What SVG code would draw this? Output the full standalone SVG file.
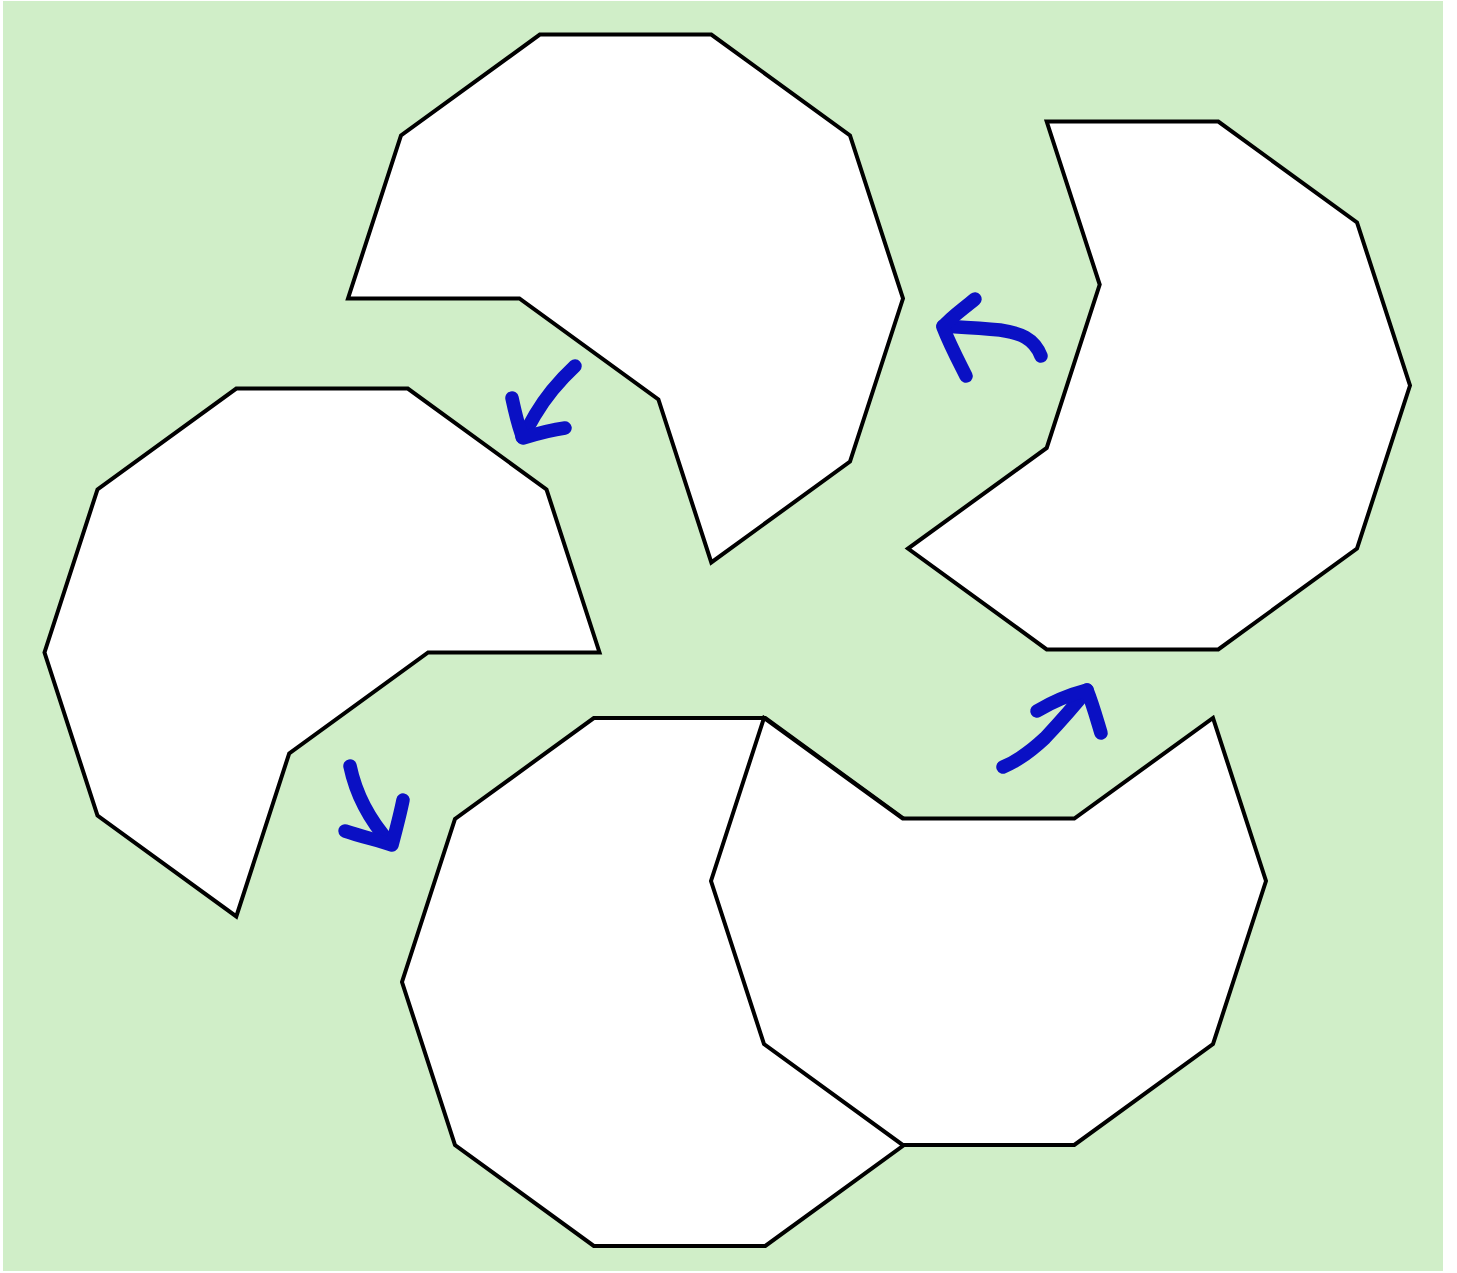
<svg xmlns="http://www.w3.org/2000/svg" width="1457" height="1273" viewBox="0 0 1457 1273">
<style>
.shape{fill:#ffffff;stroke:#000000;stroke-width:4;stroke-linejoin:miter}
.arrow{fill:none;stroke:#0a10c4;stroke-width:13.5;stroke-linecap:round;stroke-linejoin:round}
</style>
<rect x="0" y="0" width="1457" height="1273" fill="#ffffff"/>
<rect x="3" y="1" width="1440" height="1270" fill="#d0eec8"/>
<g id="shape-top">
<polygon class="shape" points="903,298.5 850,461.6 711.3,562.4 658.4,399.4 519.4,298.4 348,298.5 401,135.4 539.8,34.6 711.3,34.6 850,135.4"/>
</g>
<g id="shape-left">
<polygon class="shape" points="599.5,652.5 428.1,652.5 289.2,753.4 236.3,916.4 97.5,815.6 44.5,652.5 97.5,489.4 236.3,388.6 407.8,388.6 546.5,489.4"/>
</g>
<g id="shape-right">
<polygon class="shape" points="1410,385.5 1357,548.6 1218.3,649.4 1046.7,649.4 908,548.6 1046.7,447.9 1099.7,284.6 1046.7,121.6 1218.3,121.6 1357,222.4"/>
</g>
<g id="shape-bottom-left">
<polygon class="shape" points="957,982 904,1145.1 765.3,1245.9 593.8,1245.9 455,1145.1 402,982 455,818.9 593.8,718.1 765.3,718.1 904,818.9"/>
</g>
<g id="shape-bottom-right">
<polygon class="shape" points="1266,881 1213,1044.1 1074.3,1144.9 902.7,1144.9 764,1044.1 711,881 764,717.9 902.7,818.6 1074.3,818.6 1213,717.9"/>
</g>
<g id="connectors">
<path class="arrow" d="M1041,356 C1034,338 1020,333 1000,330 C980,328 960,327 943,326"/>
<path class="arrow" d="M975,299 C962,310 950,318 943,327 C950,345 958,360 966,376"/>
<path class="arrow" d="M575,366 C560,380 545,398 535,415 C530,424 526,431 522,437"/>
<path class="arrow" d="M512,398 C515,412 518,426 523,438 C536,434 550,430 565,428"/>
<path class="arrow" d="M350,766 C355,790 365,815 390,843"/>
<path class="arrow" d="M345,831 C360,836 376,840 392,845 C396,830 400,815 403,800"/>
<path class="arrow" d="M1003,767 C1015,762 1030,752 1045,738 C1060,722 1075,705 1087,690"/>
<path class="arrow" d="M1037,711 C1052,702 1068,695 1087,690 C1093,705 1097,720 1101,733"/>
</g>
</svg>
